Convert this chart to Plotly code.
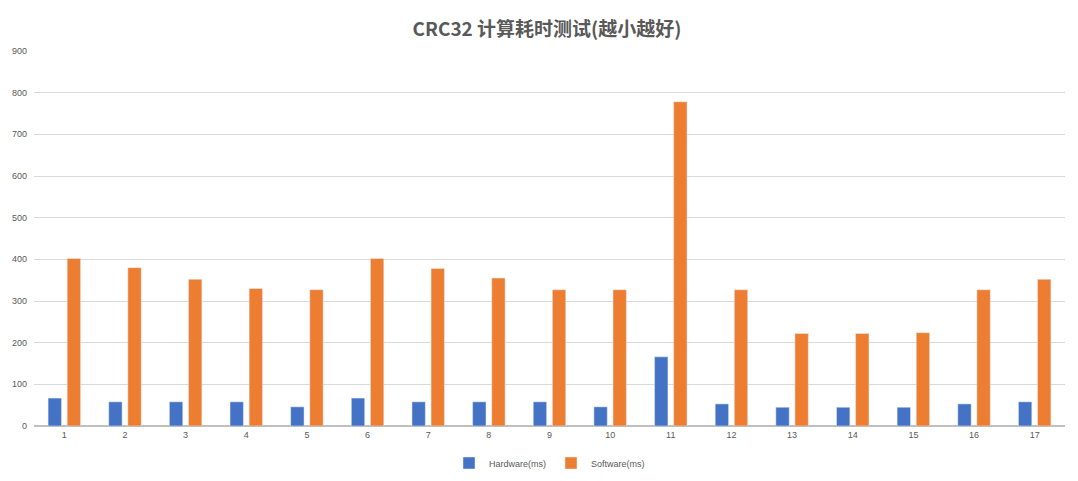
import plotly.graph_objects as go

categories = [str(i) for i in range(1, 18)]
hardware = [67, 58, 58, 58, 46, 67, 58, 58, 58, 46, 166, 53, 45, 45, 45, 53, 58]
software = [402, 380, 352, 330, 327, 402, 378, 355, 327, 327, 778, 327, 222, 222, 224, 327, 352]

fig = go.Figure()
fig.add_bar(x=categories, y=hardware, name="Hardware(ms)", marker_color="#4472C4")
fig.add_bar(x=categories, y=software, name="Software(ms)", marker_color="#ED7D31")
fig.update_layout(
    width=1078, height=481,
    paper_bgcolor="white", plot_bgcolor="white",
    bargap=0.37, bargroupgap=0.3,
    margin=dict(l=26, r=21, t=43, b=52),
    title=dict(text="<b>CRC32 计算耗时测试(越小越好)</b>", x=0.5, y=0.97, xanchor="center", yanchor="top",
               font=dict(size=19, color="#595959", family="Noto Sans CJK SC")),
    font=dict(family="Liberation Sans", size=10, color="#595959"),
    legend=dict(orientation="h", x=0.5, xanchor="center", y=-0.06, yanchor="top",
                font=dict(size=9), itemwidth=30),
    yaxis=dict(range=[0, 900], dtick=100, gridcolor="#D9D9D9", zeroline=True, automargin=False,
               zerolinecolor="#BFBFBF", tickfont=dict(size=9), ticklabelstandoff=6),
    xaxis=dict(showline=True, linecolor="#BFBFBF", tickfont=dict(size=9)),
)
fig.write_html("out.html")
